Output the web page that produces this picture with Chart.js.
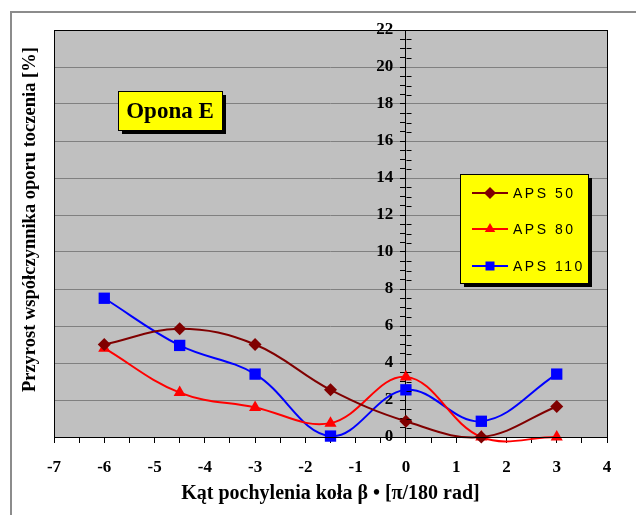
<!DOCTYPE html>
<html>
<head>
<meta charset="utf-8">
<script src="https://cdn.jsdelivr.net/npm/chart.js@4/dist/chart.umd.min.js"></script>
<style>
    body { margin: 0; background: #ffffff; }
    canvas { display: block; }
</style>
</head>
<body>
<canvas id="myChart" width="636" height="515"></canvas>
<script>
const katy = [-6, -4.5, -3, -1.5, 0, 1.5, 3]
const aps50 = [5.0, 5.85, 5.0, 2.55, 0.85, 0.0, 1.65]
const aps80 = [4.8, 2.4, 1.6, 0.75, 3.25, 0.0, 0.0]
const aps110 = [7.5, 4.95, 3.4, 0.05, 2.55, 0.85, 3.4]
const serie = ["APS 50", "APS 80", "APS 110"]
const tytul = "Opona E"
const tytulX = "Kąt pochylenia koła β • [π/180 rad]"
const tytulY = "Przyrost współczynnika oporu toczenia [%]"

const canvasChart = document.getElementById("myChart").getContext("2d")
const serif = "'Liberation Serif', 'Times New Roman', serif"

function punkty(values) {
    return values.map((v, i) => ({ x: katy[i], y: v }))
}

function rysujZnacznik(ctx, styl, x, y, r, kolor) {
    ctx.fillStyle = kolor
    ctx.beginPath()
    if (styl === "rectRot") {
        ctx.moveTo(x - r, y)
        ctx.lineTo(x, y - r)
        ctx.lineTo(x + r, y)
        ctx.lineTo(x, y + r)
    } else if (styl === "triangle") {
        ctx.moveTo(x, y - r)
        ctx.lineTo(x + r * 0.87, y + r * 0.5)
        ctx.lineTo(x - r * 0.87, y + r * 0.5)
    } else {
        ctx.rect(x - r * 0.75, y - r * 0.75, r * 1.5, r * 1.5)
    }
    ctx.closePath()
    ctx.fill()
}

function ramkaZCieniem(ctx, x, y, w, h) {
    ctx.fillStyle = "#000000"
    ctx.fillRect(x + 4, y + 4, w, h)
    ctx.fillStyle = "#ffff00"
    ctx.fillRect(x, y, w, h)
    ctx.strokeStyle = "#000000"
    ctx.lineWidth = 1
    ctx.strokeRect(x + 0.5, y + 0.5, w, h)
}

const tloWykresu = {
    id: "tloWykresu",
    beforeDraw(chart) {
        const { ctx, chartArea: a } = chart
        ctx.save()
        ctx.fillStyle = "#ffffff"
        ctx.fillRect(0, 0, chart.width, chart.height)
        // szara ramka calego obszaru
        ctx.strokeStyle = "#8c8c8c"
        ctx.lineWidth = 2
        ctx.beginPath()
        ctx.moveTo(11, chart.height)
        ctx.lineTo(11, 12)
        ctx.lineTo(chart.width, 12)
        ctx.stroke()
        ctx.fillStyle = "#c0c0c0"
        ctx.fillRect(a.left, a.top, a.right - a.left, a.bottom - a.top)
        ctx.restore()
    },
    afterDraw(chart) {
        const { ctx, chartArea: a } = chart
        ctx.save()
        ctx.strokeStyle = "#000000"
        ctx.lineWidth = 1
        ctx.strokeRect(Math.round(a.left) + 0.5, Math.round(a.top) + 0.5,
            Math.round(a.right - a.left), Math.round(a.bottom - a.top))

        // kreski po prawej stronie osi Y
        const y = chart.scales.y
        const x0 = Math.round(chart.scales.x.getPixelForValue(0)) + 0.5
        ctx.beginPath()
        y.ticks.forEach((t) => {
            if (t.value % 2 !== 0) {
                const py = Math.round(y.getPixelForValue(t.value)) + 0.5
                ctx.moveTo(x0, py)
                ctx.lineTo(x0 + 5, py)
            }
        })
        ctx.stroke()

        // tytul
        ramkaZCieniem(ctx, 118, 91, 104, 39)
        ctx.fillStyle = "#000000"
        ctx.font = "bold 23px " + serif
        ctx.textAlign = "center"
        ctx.textBaseline = "middle"
        ctx.fillText(tytul, 170, 112)

        // legenda
        ramkaZCieniem(ctx, 460, 174, 128, 109)
        ctx.font = "14px 'Liberation Sans', Arial, sans-serif"
        ctx.textAlign = "left"
        ctx.letterSpacing = "2.5px"
        const wiersze = [193, 229, 266]
        chart.data.datasets.forEach((ds, i) => {
            const ly = wiersze[i]
            ctx.strokeStyle = ds.borderColor
            ctx.lineWidth = 2
            ctx.beginPath()
            ctx.moveTo(472, ly)
            ctx.lineTo(508, ly)
            ctx.stroke()
            rysujZnacznik(ctx, ds.pointStyle, 490, ly, 6, ds.borderColor)
            ctx.fillStyle = "#000000"
            ctx.fillText(ds.label, 513, ly + 1)
        })
        ctx.restore()
    },
}

const myChart = new Chart(canvasChart, {
    type: "line",
    data: {
        datasets: [
            {
                label: serie[0],
                data: punkty(aps50),
                borderColor: "#800000",
                backgroundColor: "#800000",
                pointStyle: "rectRot",
                pointRadius: 6.5,
            },
            {
                label: serie[1],
                data: punkty(aps80),
                borderColor: "#ff0000",
                backgroundColor: "#ff0000",
                pointStyle: "triangle",
                pointRadius: 7,
            },
            {
                label: serie[2],
                data: punkty(aps110),
                borderColor: "#0000ff",
                backgroundColor: "#0000ff",
                pointStyle: "rect",
                pointRadius: 8,
            },
        ].map((ds) => ({
            ...ds,
            xAxisID: "x",
            yAxisID: "y",
            borderWidth: 2,
            tension: 0.38,
            pointBorderWidth: 0,
            pointHoverRadius: ds.pointRadius,
            clip: false,
        })),
    },
    options: {
        responsive: false,
        animation: false,
        events: [],
        layout: { padding: { left: 0, right: 29, top: 30, bottom: 0 } },
        elements: { line: { capBezierPoints: false } },
        plugins: {
            legend: { display: false },
            tooltip: { enabled: false },
        },
        scales: {
            x: {
                type: "linear",
                position: "bottom",
                min: -7,
                max: 4,
                afterFit: (s) => { s.height = 78 },
                grid: {
                    drawOnChartArea: false,
                    drawTicks: true,
                    tickLength: 6,
                    tickColor: "#000000",
                },
                border: { color: "#000000", width: 1 },
                ticks: {
                    stepSize: 0.5,
                    maxTicksLimit: 100,
                    autoSkip: false,
                    maxRotation: 0,
                    padding: 14,
                    color: "#000000",
                    font: { family: serif, size: 17, weight: "bold" },
                    callback: (v) => (Number.isInteger(v) ? String(v) : ""),
                },
                title: {
                    display: true,
                    text: tytulX,
                    color: "#000000",
                    padding: { top: 4, bottom: 9 },
                    font: { family: serif, size: 20, weight: "bold" },
                },
            },
            y: {
                type: "linear",
                position: { x: 0 },
                min: 0,
                max: 22,
                grid: {
                    color: (c) => (c.tick && c.tick.value % 2 === 0 ? "#808080" : "rgba(0,0,0,0)"),
                    tickColor: "#000000",
                    tickLength: 5,
                },
                border: { color: "#000000", width: 1 },
                ticks: {
                    stepSize: 0.5,
                    maxTicksLimit: 100,
                    autoSkip: false,
                    color: "#000000",
                    font: { family: serif, size: 17, weight: "bold" },
                    // spacje przesuwaja etykiete na lewo od osi
                    callback: (v) => (v % 2 === 0 ? String(v) + "   " : ""),
                },
            },
            yTytul: {
                type: "linear",
                position: "left",
                min: 0,
                max: 22,
                afterFit: (s) => { s.width = 54 },
                grid: { display: false },
                border: { display: false },
                ticks: { display: false },
                title: {
                    display: true,
                    // spacje na poczatku podnosza tytul jak w oryginale
                    text: "      " + tytulY,
                    color: "#000000",
                    padding: { top: 19, bottom: 4 },
                    font: { family: serif, size: 18.5, weight: "bold" },
                },
            },
        },
    },
    plugins: [tloWykresu],
})
</script>
</body>
</html>
